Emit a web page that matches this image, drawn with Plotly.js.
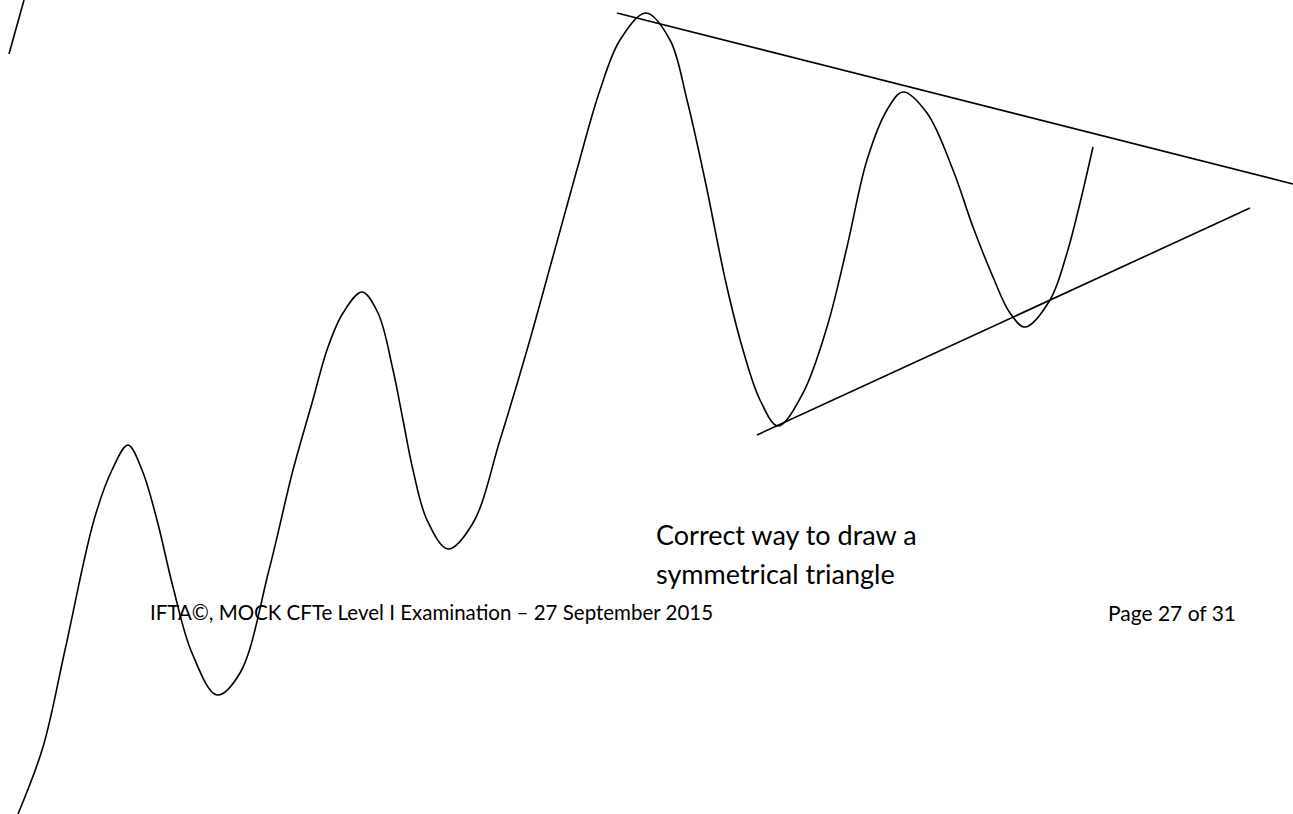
<!DOCTYPE html>
<html>
<head>
<meta charset="utf-8">
<script src="https://cdn.plot.ly/plotly-3.0.1.min.js"></script>
<style>
  html, body { margin: 0; padding: 0; background: #ffffff; }
  #chart { width: 1293px; height: 814px; }
</style>
</head>
<body>
<div id="chart"></div>
<script>
// Price path (page pixel coordinates, y downwards)
const priceX = [18, 43, 65, 94, 112, 128, 142, 157, 173, 192, 217, 240, 269, 293, 312, 328, 343, 362, 378, 393, 403, 413, 427, 448, 473, 500, 527, 552, 576, 600, 620, 646, 670, 687, 705, 726, 743, 760, 778, 803, 827, 847, 867, 887, 903, 927, 953, 973, 993, 1010, 1025, 1050, 1067, 1080, 1093];
const priceY = [814, 747, 650, 520, 470, 445, 470, 520, 587, 653, 695, 673, 570, 470, 403, 347, 313, 292, 313, 370, 420, 470, 520, 549, 523, 440, 350, 260, 173, 90, 40, 13, 40, 100, 180, 283, 350, 400, 426, 393, 327, 247, 160, 110, 92, 113, 170, 227, 277, 313, 327, 300, 253, 203, 147];

// Upper (resistance) trend line
const upperX = [617, 1293];
const upperY = [13, 184];
// Lower (support) trend line
const lowerX = [757, 1250];
const lowerY = [435, 208];
// Fragment at the top-left corner
const fragX = [24, 9];
const fragY = [0, 54];

const caption1 = "Correct way to draw a";
const caption2 = "symmetrical triangle";
const footerLeft = "IFTA©, MOCK CFTe Level I Examination – 27 September 2015";
const footerRight = "Page 27 of 31";

const lineStyle = {color: '#000000', width: 1.6};

const traces = [
  {x: priceX, y: priceY, type: 'scatter', mode: 'lines', line: Object.assign({shape: 'spline', smoothing: 1, simplify: false}, lineStyle), hoverinfo: 'skip'},
  {x: upperX, y: upperY, type: 'scatter', mode: 'lines', line: lineStyle, hoverinfo: 'skip'},
  {x: lowerX, y: lowerY, type: 'scatter', mode: 'lines', line: lineStyle, hoverinfo: 'skip'},
  {x: fragX, y: fragY, type: 'scatter', mode: 'lines', line: lineStyle, hoverinfo: 'skip'}
];

const captionFont = {family: 'Lato, "Open Sans", sans-serif', size: 27, color: '#000000'};
const footerFontL = {family: 'Lato, "Open Sans", sans-serif', size: 20.5, color: '#000000'};
const footerFontR = {family: 'Lato, "Open Sans", sans-serif', size: 21, color: '#000000'};

const layout = {
  width: 1293, height: 814,
  margin: {l: 0, r: 0, t: 0, b: 0, pad: 0},
  paper_bgcolor: '#ffffff', plot_bgcolor: '#ffffff',
  showlegend: false,
  xaxis: {range: [0, 1293], visible: false, fixedrange: true},
  yaxis: {range: [814, 0], visible: false, fixedrange: true},
  annotations: [
    {x: 654, y: 534, xref: 'x', yref: 'y', text: caption1, showarrow: false, xanchor: 'left', yanchor: 'middle', font: captionFont},
    {x: 654, y: 573, xref: 'x', yref: 'y', text: caption2, showarrow: false, xanchor: 'left', yanchor: 'middle', font: captionFont},
    {x: 148, y: 612, xref: 'x', yref: 'y', text: footerLeft, showarrow: false, xanchor: 'left', yanchor: 'middle', font: footerFontL},
    {x: 1106, y: 612, xref: 'x', yref: 'y', text: footerRight, showarrow: false, xanchor: 'left', yanchor: 'middle', font: footerFontR}
  ]
};

Plotly.newPlot('chart', traces, layout, {displayModeBar: false, staticPlot: true});
</script>
</body>
</html>
